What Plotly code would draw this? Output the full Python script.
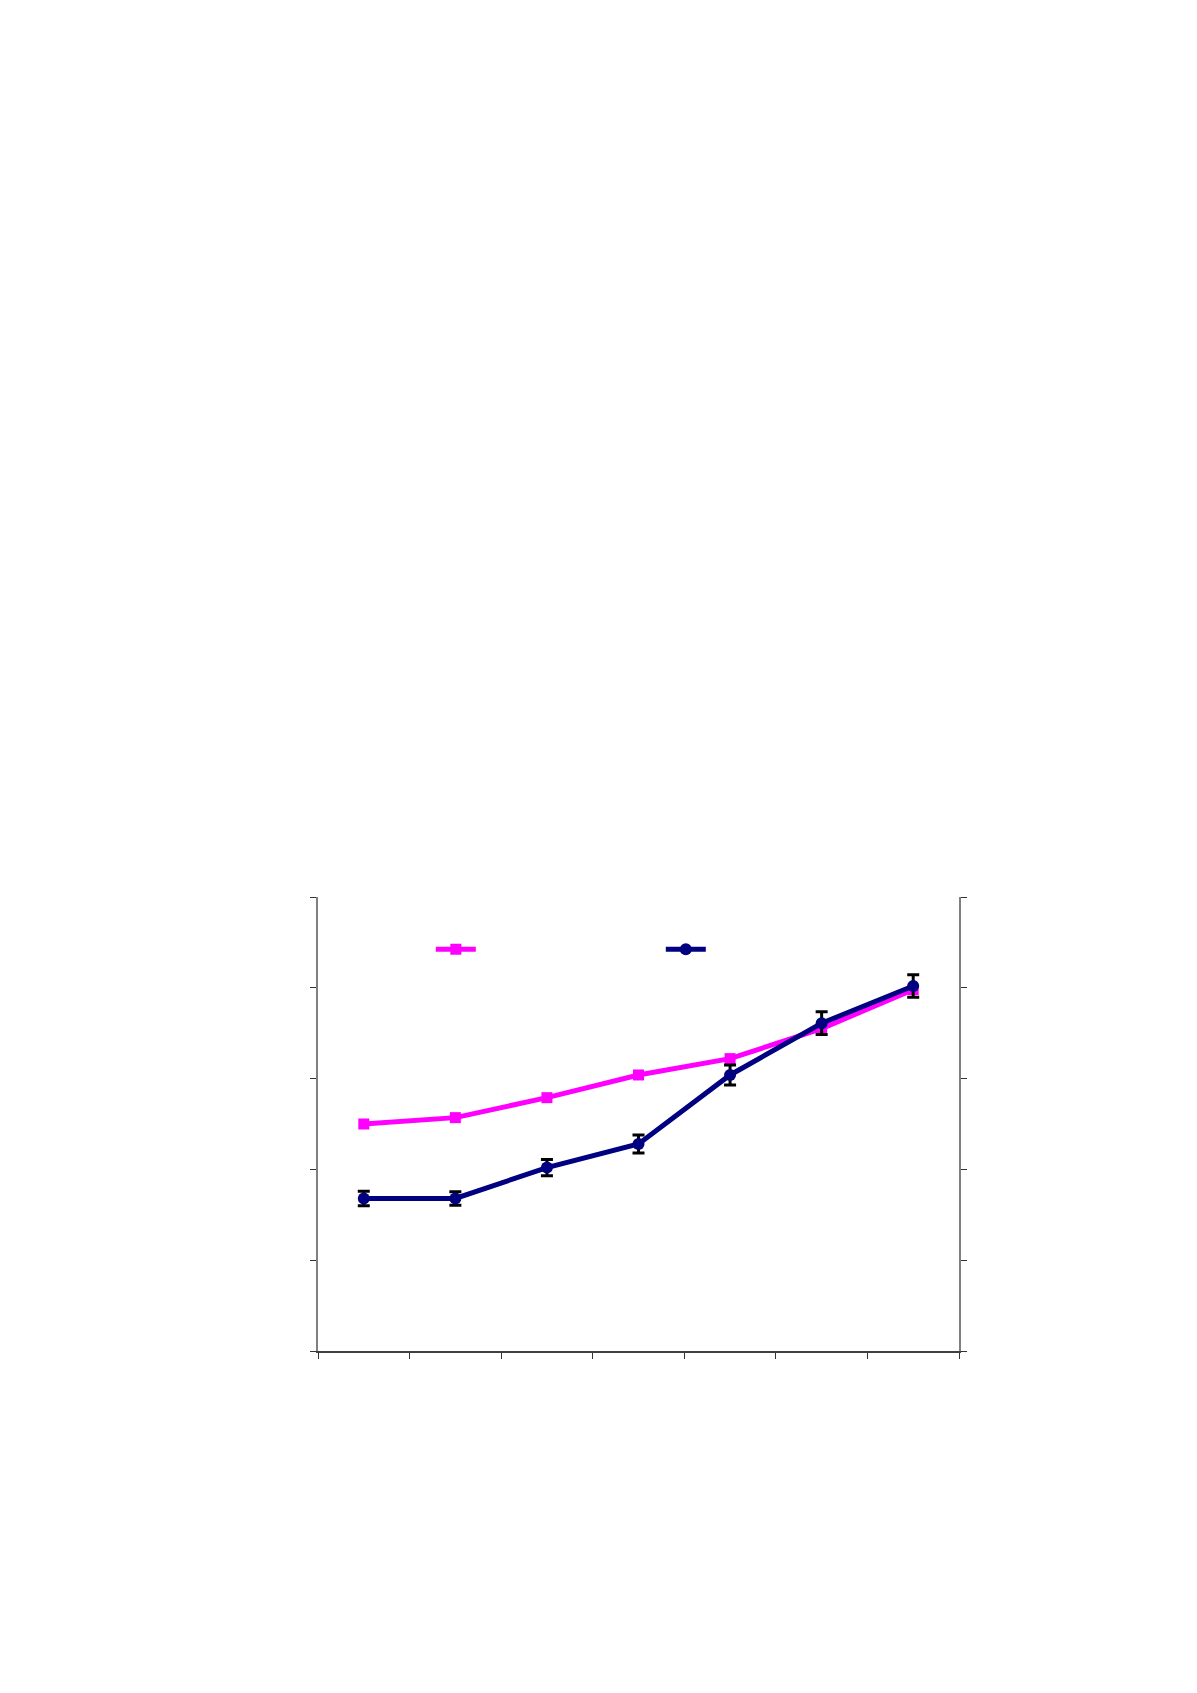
import plotly.graph_objects as go

# Data (y in chart units; no labels visible in reference)
x_points = [1, 2, 3, 4, 5, 6, 7]
series_a_name = " "
series_a = [25.0, 25.7, 27.9, 30.4, 32.2, 35.5, 39.8]
series_b_name = " "
series_b = [16.8, 16.8, 20.2, 22.8, 30.4, 36.1, 40.2]
series_b_err = [0.8, 0.75, 0.9, 1.0, 1.1, 1.25, 1.25]

y_range = [0, 50]
y_dtick = 10
x_range = [0.5, 7.5]

fig = go.Figure()
fig.add_trace(go.Scatter(
    x=x_points, y=series_a, name=series_a_name, mode="lines+markers",
    line=dict(color="#FF00FF", width=5),
    marker=dict(symbol="square", size=11, color="#FF00FF"),
))
fig.add_trace(go.Scatter(
    x=x_points, y=series_b, name=series_b_name, mode="lines+markers",
    line=dict(color="#000080", width=5),
    marker=dict(symbol="circle", size=12, color="#000080"),
    error_y=dict(type="data", array=series_b_err, visible=True,
                 color="black", thickness=3, width=6),
))

W, H = 1197, 1693
pw, ph = 640.7, 453.7
left, top = 310, 889

fig.update_layout(
    width=W, height=H,
    margin=dict(l=left, r=W - left - pw, t=top, b=H - top - ph, pad=0),
    paper_bgcolor="white", plot_bgcolor="white",
    showlegend=True,
    legend=dict(orientation="h", x=0.176, y=0.885, xanchor="left", yanchor="middle",
                bgcolor="rgba(0,0,0,0)", entrywidth=175, itemwidth=40,
                font=dict(size=12), itemclick=False),
    xaxis=dict(range=x_range, tickmode="linear", tick0=0.5, dtick=1,
               ticks="outside", ticklen=6, tickcolor="#333333", tickwidth=1,
               showticklabels=False, showgrid=False, zeroline=False,
               showline=True, linecolor="#404040", linewidth=1.5, mirror=False),
    xaxis2=dict(range=x_range, tickmode="linear", tick0=0.5, dtick=1,
                overlaying="x", anchor="y", side="bottom",
                ticks="inside", ticklen=6, tickcolor="#333333", tickwidth=1,
                showticklabels=False, showgrid=False, zeroline=False, showline=False),
    yaxis=dict(range=y_range, tickmode="linear", tick0=0, dtick=y_dtick,
               ticks="outside", ticklen=6, tickcolor="#333333", tickwidth=1,
               showticklabels=False, showgrid=False, zeroline=False,
               showline=True, linecolor="#808080", linewidth=1.5, mirror="ticks"),
    yaxis2=dict(range=y_range, tickmode="linear", tick0=0, dtick=y_dtick,
                overlaying="y", anchor="x", side="left",
                ticks="inside", ticklen=6, tickcolor="#333333", tickwidth=1,
                showticklabels=False, showgrid=False, zeroline=False,
                showline=False, mirror="ticks"),
)

fig.write_html("out.html")
